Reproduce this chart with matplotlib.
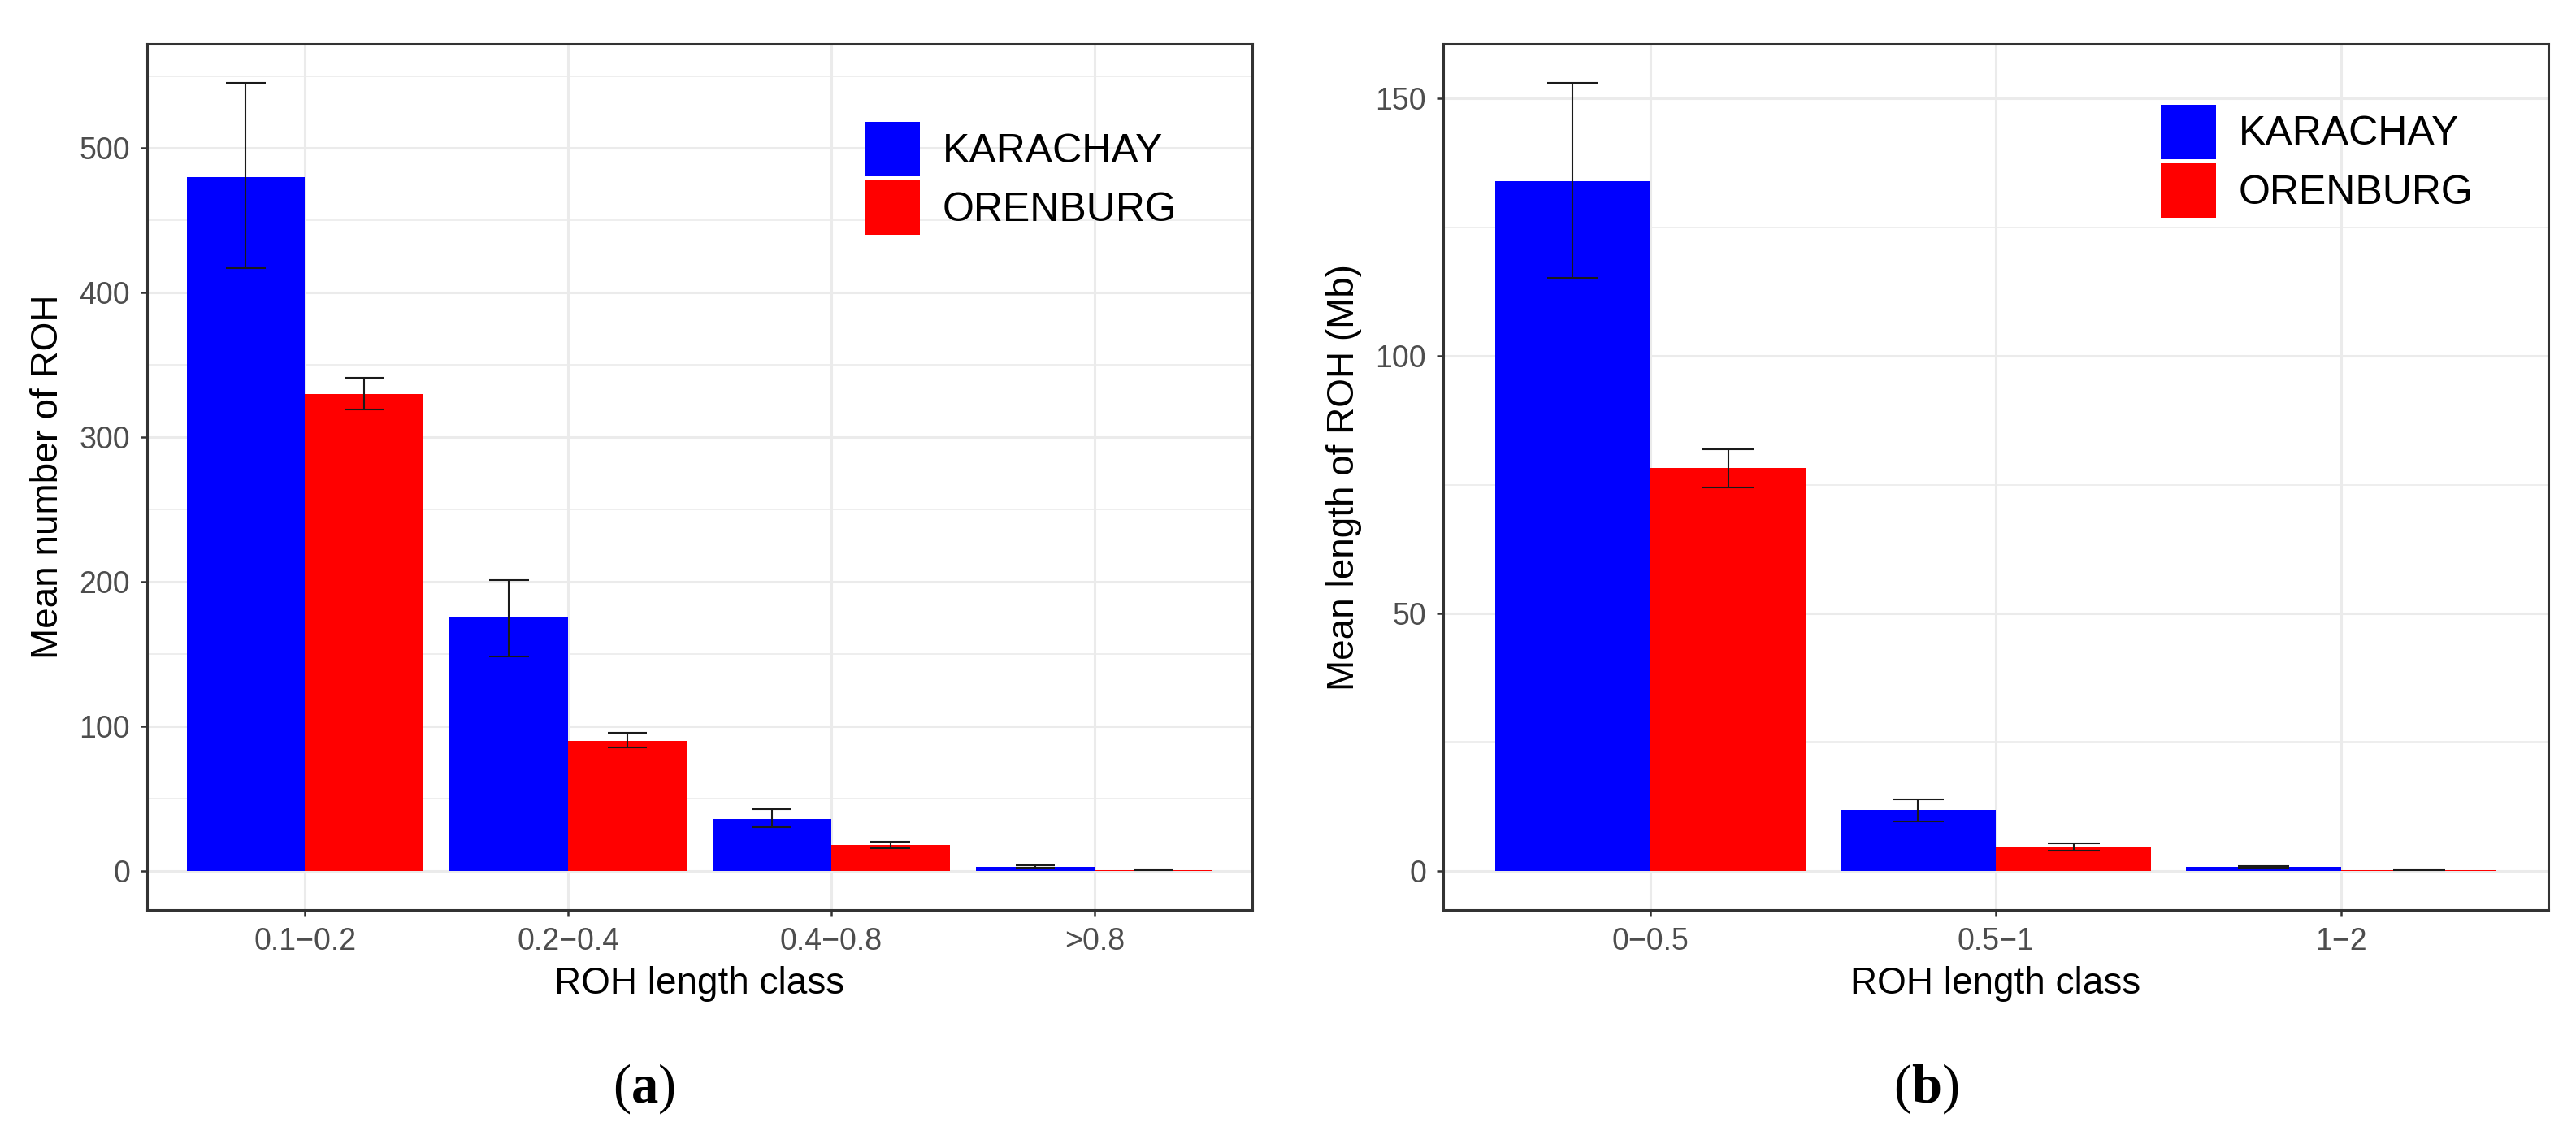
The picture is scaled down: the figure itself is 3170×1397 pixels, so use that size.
import numpy as np
import matplotlib.pyplot as plt

plt.rcParams['font.family'] = ['Liberation Sans', 'DejaVu Sans']
plt.rcParams['mathtext.fontset'] = 'custom'
plt.rcParams['mathtext.rm'] = 'Liberation Serif'
plt.rcParams['mathtext.bf'] = 'Liberation Serif:bold'

# panel (a): mean number of ROH per length class
classes_a = ['0.1\u22120.2', '0.2\u22120.4', '0.4\u22120.8', '>0.8']
karachay_n = [480, 175, 36, 2.6]
karachay_n_lo = [417, 148.3, 30.2, 1.9]
karachay_n_hi = [545, 201, 42.5, 3.4]
orenburg_n = [330, 90, 18, 0.4]
orenburg_n_lo = [319, 85, 15.5, 0.2]
orenburg_n_hi = [341, 95.3, 20, 0.6]

# panel (b): mean length of ROH (Mb) per length class
classes_b = ['0\u22120.5', '0.5\u22121', '1\u22122']
karachay_len = [134, 11.7, 0.7]
karachay_len_lo = [115.2, 9.6, 0.55]
karachay_len_hi = [153, 13.9, 0.85]
orenburg_len = [78.2, 4.7, 0.15]
orenburg_len_lo = [74.5, 3.9, 0.1]
orenburg_len_hi = [81.8, 5.3, 0.2]

groups = ['KARACHAY', 'ORENBURG']
colors = ['#0000FF', '#FF0000']

W, H = 3170, 1397
fig = plt.figure(figsize=(W / 100, H / 100), dpi=100)
ax_a = fig.add_axes([181 / W, 1 - 1120 / H, 1360 / W, 1066 / H])
ax_b = fig.add_axes([1776 / W, 1 - 1120 / H, 1360 / W, 1066 / H])


def draw_panel(ax, classes, series, ylabel, major, minor, leg_y):
    x = np.arange(1, len(classes) + 1)
    top = 0
    for i, (vals, lo, hi) in enumerate(series):
        xs = x - 0.225 + i * 0.45
        ax.bar(xs, vals, width=0.45, color=colors[i], label=groups[i], zorder=2, linewidth=0)
        ax.vlines(xs, lo, hi, color='#1a1a1a', lw=1.5, zorder=3)
        ax.hlines(lo, xs - 0.075, xs + 0.075, color='#1a1a1a', lw=1.5, zorder=3)
        ax.hlines(hi, xs - 0.075, xs + 0.075, color='#1a1a1a', lw=1.5, zorder=3)
        top = max(top, max(hi))
    pad = top * 0.05
    ax.set_ylim(-pad, top + pad)
    ax.set_xlim(0.4, len(classes) + 0.6)
    ax.set_xticks(x)
    ax.set_xticklabels(classes)
    ax.set_yticks(major)
    ax.set_yticks(minor, minor=True)
    ax.grid(which='major', color='#EBEBEB', lw=2.2, zorder=0)
    ax.grid(which='minor', axis='y', color='#EBEBEB', lw=1.2, zorder=0)
    ax.set_axisbelow(True)
    ax.tick_params(axis='both', which='major', labelsize=27, labelcolor='#4D4D4D',
                   color='#333333', length=6, width=1.8, pad=9)
    ax.tick_params(axis='y', which='minor', length=0)
    for s in ax.spines.values():
        s.set_color('#333333')
        s.set_linewidth(2.2)
    ax.set_xlabel('ROH length class', fontsize=33, labelpad=9)
    ax.set_ylabel(ylabel, fontsize=33, labelpad=12)
    ax.legend(loc='upper left', bbox_to_anchor=(0.649, leg_y), frameon=False,
              fontsize=36, handlelength=1.36, handleheight=1.69, labelspacing=0.1,
              handletextpad=0.56, borderpad=0, borderaxespad=0)


draw_panel(ax_a, classes_a,
           [(karachay_n, karachay_n_lo, karachay_n_hi),
            (orenburg_n, orenburg_n_lo, orenburg_n_hi)],
           'Mean number of ROH', [0, 100, 200, 300, 400, 500],
           [50, 150, 250, 350, 450, 550], 0.91)
draw_panel(ax_b, classes_b,
           [(karachay_len, karachay_len_lo, karachay_len_hi),
            (orenburg_len, orenburg_len_lo, orenburg_len_hi)],
           'Mean length of ROH (Mb)', [0, 50, 100, 150], [25, 75, 125], 0.93)

fig.text(792 / W, 1 - 1340 / H, r'($\mathbf{a}$)', fontsize=48, family='Liberation Serif',
         ha='center', va='center')
fig.text(2370 / W, 1 - 1340 / H, r'($\mathbf{b}$)', fontsize=48, family='Liberation Serif',
         ha='center', va='center')

fig.savefig('out.png', dpi=100)
